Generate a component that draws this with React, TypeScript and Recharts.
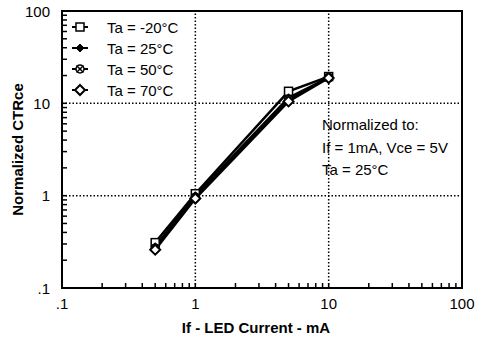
import React from "react";
import {
  LineChart,
  Line,
  XAxis,
  YAxis,
  ReferenceLine,
  ReferenceArea,
  Label,
} from "recharts";

const currents = [0.5, 1, 5, 10];
const ctrM20 = [0.31, 1.05, 13.5, 19.5];
const ctr25 = [0.28, 1.0, 11.5, 19];
const ctr50 = [0.27, 0.96, 11, 19];
const ctr70 = [0.26, 0.93, 10.5, 18.8];
const seriesNames = ["Ta = -20°C", "Ta = 25°C", "Ta = 50°C", "Ta = 70°C"];
const seriesKeys = ["m20", "t25", "t50", "t70"];
const majorTicks = [0.1, 1, 10, 100];
const majorLabels = [".1", "1", "10", "100"];
const allTicks = [
  0.1, 0.2, 0.3, 0.4, 0.5, 0.6, 0.7, 0.8, 0.9, 1, 2, 3, 4, 5, 6, 7, 8, 9, 10,
  20, 30, 40, 50, 60, 70, 80, 90, 100,
];
const gridLines = [1, 10];
const noteLines = ["Normalized to:", "If = 1mA, Vce = 5V", "Ta = 25°C"];

const data = currents.map((c, i) => ({
  x: c,
  m20: ctrM20[i],
  t25: ctr25[i],
  t50: ctr50[i],
  t70: ctr70[i],
}));

const FONT = "'Liberation Sans', Arial, sans-serif";

const labelOf = (v: number) => {
  const i = majorTicks.findIndex((m) => Math.abs(m - v) < 1e-9);
  return i >= 0 ? majorLabels[i] : "";
};

const XTick = (props: any) => {
  const { x, y, payload } = props;
  const v = payload.value;
  const lbl = labelOf(v);
  const isEdge = v === 0.1 || v === 100;
  return (
    <g>
      {!isEdge && <line x1={x} y1={y} x2={x} y2={y - 5} stroke="#000" strokeWidth={1.5} />}
      {lbl && (
        <text x={x} y={y + 15} textAnchor="middle" dominantBaseline="central" fontSize={15} fontFamily={FONT} fill="#000">
          {lbl}
        </text>
      )}
    </g>
  );
};

const YTick = (props: any) => {
  const { x, y, payload } = props;
  const v = payload.value;
  const lbl = labelOf(v);
  const isEdge = v === 0.1 || v === 100;
  return (
    <g>
      {!isEdge && <line x1={x} y1={y} x2={x + 5} y2={y} stroke="#000" strokeWidth={1.5} />}
      {lbl && (
        <text x={x - 12} y={y} textAnchor="end" dominantBaseline="central" fontSize={15} fontFamily={FONT} fill="#000">
          {lbl}
        </text>
      )}
    </g>
  );
};

function MarkerShape({ kind, cx, cy }: { kind: number; cx: number; cy: number }) {
  if (kind === 0) {
    return (
      <rect x={cx - 4} y={cy - 4} width={8} height={8} fill="#fff" stroke="#000" strokeWidth={1.5} />
    );
  }
  if (kind === 1) {
    return (
      <polygon
        points={`${cx},${cy - 4} ${cx + 4},${cy} ${cx},${cy + 4} ${cx - 4},${cy}`}
        fill="#000"
        stroke="#000"
        strokeWidth={1}
      />
    );
  }
  if (kind === 2) {
    return (
      <g stroke="#000" strokeWidth={1.5} fill="#fff">
        <circle cx={cx} cy={cy} r={4} />
        <line x1={cx - 3.5} y1={cy - 3.5} x2={cx + 3.5} y2={cy + 3.5} />
        <line x1={cx - 3.5} y1={cy + 3.5} x2={cx + 3.5} y2={cy - 3.5} />
      </g>
    );
  }
  return (
    <polygon
      points={`${cx},${cy - 5} ${cx + 5},${cy} ${cx},${cy + 5} ${cx - 5},${cy}`}
      fill="#fff"
      stroke="#000"
      strokeWidth={2}
    />
  );
}

const makeDot = (kind: number) => (props: any) => {
  const { cx, cy, index } = props;
  if (cx == null || cy == null) return <g key={`${kind}-${index}`} />;
  return (
    <g key={`${kind}-${index}`}>
      <MarkerShape kind={kind} cx={cx} cy={cy} />
    </g>
  );
};

export default function App() {
  return (
    <div style={{ position: "absolute", left: 0, top: 0, width: 480, height: 338, background: "#fff" }}>
      <LineChart
        width={480}
        height={338}
        data={data}
        margin={{ top: 11, right: 18, bottom: 0, left: 0 }}
        style={{ fontFamily: FONT }}
      >
        <XAxis
          dataKey="x"
          type="number"
          scale="log"
          domain={[0.1, 100]}
          ticks={allTicks}
          allowDataOverflow
          height={50}
          axisLine={false}
          tickLine={false}
          tickSize={0}
          tickMargin={0}
          tick={<XTick />}
          interval={0}
        >
          <Label
            value="If - LED Current - mA"
            position="insideBottom"
            offset={5}
            dx={-6}
            style={{ fill: "#000", fontSize: 15, fontWeight: "bold", fontFamily: FONT }}
          />
        </XAxis>
        <YAxis
          type="number"
          scale="log"
          domain={[0.1, 100]}
          ticks={allTicks}
          allowDataOverflow
          width={62}
          axisLine={false}
          tickLine={false}
          tickSize={0}
          tickMargin={0}
          tick={<YTick />}
          interval={0}
        >
          <Label
            value="Normalized CTRce"
            angle={-90}
            position="insideLeft"
            offset={18}
            style={{ fill: "#000", fontSize: 15, fontWeight: "bold", fontFamily: FONT, textAnchor: "middle" }}
          />
        </YAxis>
        {gridLines.map((v) => (
          <ReferenceLine key={`vx${v}`} x={v} stroke="#000" strokeWidth={1.5} strokeDasharray="1.5 2" />
        ))}
        {gridLines.map((v) => (
          <ReferenceLine key={`hy${v}`} y={v} stroke="#000" strokeWidth={1.5} strokeDasharray="1.5 2" />
        ))}
        <ReferenceArea
          x1={0.1}
          x2={100}
          y1={0.1}
          y2={100}
          fill="none"
          fillOpacity={0}
          stroke="#000"
          strokeWidth={2}
          ifOverflow="visible"
        />
        {seriesKeys.map((k, i) => (
          <Line
            key={k}
            dataKey={k}
            stroke="#000"
            strokeWidth={2.5}
            dot={makeDot(i)}
            isAnimationActive={false}
          />
        ))}
      </LineChart>
      <svg
        width={140}
        height={90}
        style={{ position: "absolute", left: 66, top: 14, overflow: "visible" }}
      >
        {seriesNames.map((name, i) => {
          const cy = 13 + i * 21;
          return (
            <g key={name}>
              <line x1={6} y1={cy} x2={22} y2={cy} stroke="#000" strokeWidth={2} />
              <MarkerShape kind={i} cx={14} cy={cy} />
              <text
                x={41}
                y={cy}
                dominantBaseline="central"
                fontSize={15}
                fontFamily={FONT}
                fill="#000"
              >
                {name}
              </text>
            </g>
          );
        })}
      </svg>
      <div
        style={{
          position: "absolute",
          left: 322,
          top: 114,
          fontFamily: FONT,
          fontSize: 15,
          lineHeight: "22.5px",
          color: "#000",
        }}
      >
        {noteLines.map((t) => (
          <div key={t}>{t}</div>
        ))}
      </div>
    </div>
  );
}
